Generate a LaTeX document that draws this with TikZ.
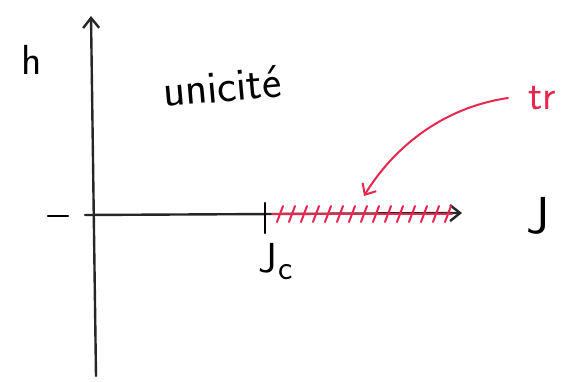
\documentclass[tikz,border=0pt]{standalone}
\usepackage{tikz}
\usetikzlibrary{arrows.meta,positioning}
\definecolor{penred}{RGB}{230,40,80}
\begin{document}
\begin{tikzpicture}[x=1pt,y=-1pt,line width=2.4pt,line cap=round,
  every node/.style={inner sep=0pt,font=\sffamily\fontsize{42}{46}\selectfont},
  axis/.style={draw=black!85,-{Straight Barb[length=10pt,width=16pt]}},
  hatch/.style={draw=penred,line width=2pt}]
\clip (0,0) rectangle (573,382);
\useasboundingbox (0,0) rectangle (573,382);
% axes
\coordinate (o) at (95,215);
\coordinate (ybot) at (96,376);
\coordinate (ytop) at (91,16);
\coordinate (xleft) at (85,215);
\coordinate (xright) at (462,213);
\draw[axis] (ybot) -- (ytop);
\draw[axis] (xleft) -- (xright);
\draw (48,216) -- (68,216);
% critical value
\coordinate (jc) at (265,215);
\draw (265,203) -- (265,233);
\node (jclabel) at (268,258) {J};
\node[font=\sffamily\fontsize{34}{38}\selectfont] (jcsub) at (286,272) {c};
% hatched part
\foreach \x in {280,292,...,448}
  \draw[hatch] (\x-3,222) -- (\x+3,206);
\draw[hatch] (272,214) -- (452,214);
% labels
\node (h) at (32,60) {h};
\node[rotate=5,font=\sffamily\fontsize{46}{50}\selectfont] (uni) at (222,86) {unicité};
\node[font=\sffamily\fontsize{52}{56}\selectfont] (J) at (538,216) {J};
\node[text=penred,anchor=west] (tr) at (527,98) {tr};
\draw[penred,line width=2pt,-{Straight Barb[length=9pt,width=16pt]}]
  (508,98) .. controls (440,108) and (392,150) .. (364,196);
\end{tikzpicture}
\end{document}
